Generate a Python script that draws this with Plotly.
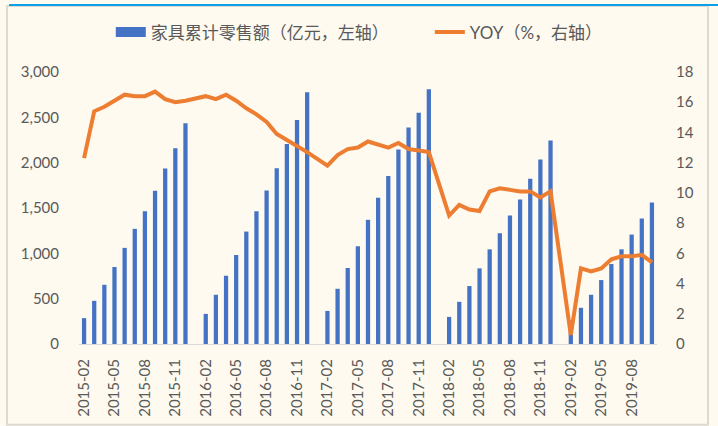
import plotly.graph_objects as go

# monthly categories, Jan has no separate figure (Jan-Feb reported together)
months = [f"{y}-{m:02d}" for y in range(2015, 2020) for m in range(1, 13)]
months = months[months.index("2015-02"):months.index("2019-10") + 1]

sales_2015 = [285, 476, 653, 849, 1060, 1270, 1465, 1691, 1935, 2159, 2436]
sales_2016 = [None, 332, 543, 753, 982, 1240, 1465, 1694, 1938, 2207, 2470, 2776]
sales_2017 = [None, 365, 609, 838, 1078, 1370, 1613, 1853, 2145, 2388, 2550, 2809]
sales_2018 = [None, 299, 465, 639, 834, 1044, 1222, 1417, 1595, 1823, 2034, 2245]
sales_2019 = [None, 260, 399, 543, 705, 882, 1044, 1207, 1384, 1561]
sales = sales_2015 + sales_2016 + sales_2017 + sales_2018 + sales_2019

yoy_2015 = [12.3, 15.4, 15.7, 16.1, 16.5, 16.4, 16.4, 16.7, 16.2, 16.0, 16.1]
yoy_2016 = [None, 16.4, 16.2, 16.5, 16.1, 15.6, 15.2, 14.7, 13.9, 13.5, 13.1, 12.7]
yoy_2017 = [None, 11.8, 12.5, 12.9, 13.0, 13.4, 13.2, 13.0, 13.3, 12.9, 12.8, 12.7]
yoy_2018 = [None, 8.5, 9.2, 8.9, 8.8, 10.1, 10.3, 10.2, 10.1, 10.1, 9.7, 10.1]
yoy_2019 = [None, 0.6, 5.0, 4.8, 5.0, 5.6, 5.8, 5.8, 5.9, 5.4]
yoy = yoy_2015 + yoy_2016 + yoy_2017 + yoy_2018 + yoy_2019

tick_months = months[::3]

BLUE = "#4472C4"
ORANGE = "#ED7D31"
GREY = "#595959"
BG = "#FEFAF0"
FONT = "Lato, Noto Sans CJK SC, sans-serif"

fig = go.Figure()
fig.add_trace(
    go.Bar(x=months, y=sales, name="家具累计零售额（亿元，左轴）", marker_color=BLUE,
           marker_line_width=0, showlegend=False)
)
# legend-only entry so the key is a wide patch like the original
fig.add_trace(
    go.Scatter(x=[None], y=[None], mode="lines", name="家具累计零售额（亿元，左轴）",
               line=dict(color=BLUE, width=10), legend="legend")
)
fig.add_trace(
    go.Scatter(x=months, y=yoy, mode="lines", name="YOY（%，右轴）", yaxis="y2",
               connectgaps=True, line=dict(color=ORANGE, width=4), legend="legend2")
)

legend_style = dict(
    orientation="h",
    xanchor="left",
    y=1.145,
    yanchor="middle",
    font=dict(size=17, color=GREY),
    bgcolor="rgba(0,0,0,0)",
)

fig.update_layout(
    width=718,
    height=426,
    paper_bgcolor=BG,
    plot_bgcolor=BG,
    margin=dict(l=79, r=61, t=72, b=82),
    bargap=0.58,
    font=dict(family=FONT, size=15, color=GREY),
    legend=dict(legend_style, x=0.055),
    legend2=dict(legend_style, x=0.607),
    xaxis=dict(
        type="category",
        categoryorder="array",
        categoryarray=months,
        tickmode="array",
        tickvals=tick_months,
        ticktext=tick_months,
        tickangle=-90,
        showline=True,
        linecolor="#D9D9D9",
        linewidth=1,
        showgrid=False,
        ticks="",
        ticklabelstandoff=8,
        zeroline=False,
        automargin=False,
    ),
    yaxis=dict(
        range=[0, 3000],
        dtick=500,
        tickformat=",",
        showgrid=False,
        zeroline=False,
        ticks="",
        ticklabelstandoff=19,
        automargin=False,
    ),
    yaxis2=dict(
        range=[0, 18],
        dtick=2,
        overlaying="y",
        side="right",
        showgrid=False,
        zeroline=False,
        ticks="",
        ticklabelstandoff=18,
        automargin=False,
    ),
    shapes=[
        dict(type="rect", xref="paper", yref="paper",
             x0=-0.1246, x1=1.0882, y0=-0.2965, y1=1.243,
             line=dict(color="#DEDAD2", width=2), layer="below"),
        dict(type="line", xref="paper", yref="paper",
             x0=-0.121, x1=1.11, y0=1.246, y1=1.246,
             line=dict(color="#0AA0E6", width=2)),
    ],
)

# drop the browser's default 8px body margin so the figure sits at the window origin
fig.write_html(
    "out.html",
    config={"displayModeBar": False},
    post_script="document.body.style.margin = '0';",
)
